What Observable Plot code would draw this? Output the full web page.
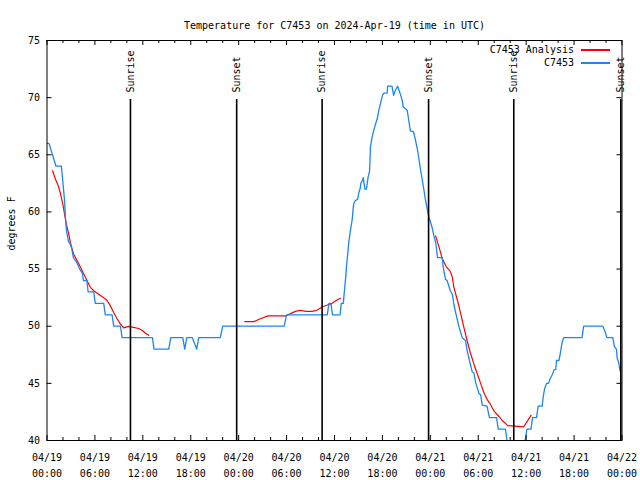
<!DOCTYPE html>
<html><head><meta charset="utf-8">
<script src="https://cdn.jsdelivr.net/npm/d3@7"></script>
<script src="https://cdn.jsdelivr.net/npm/@observablehq/plot@0.6"></script>
<style>
body{margin:0;background:#fff;}
#wrap{position:relative;width:640px;height:480px;font-family:"DejaVu Sans Mono",monospace;font-size:10px;color:#000;}
.lt{position:absolute;right:66px;white-space:pre;line-height:12px;}
.ls{position:absolute;left:581px;width:29px;height:1.5px;}
</style></head><body><div id="wrap"></div>
<script>
const title = "Temperature for C7453 on 2024-Apr-19 (time in UTC)";
const yLabel = "degrees F";
const seriesNames = ["C7453 Analysis", "C7453"];
const seriesColors = ["#ff0000", "#1a86f2"];

// hours since 2024-04-19 00:00 UTC
const xTickHours = [0, 6, 12, 18, 24, 30, 36, 42, 48, 54, 60, 66, 72];
const xTickLabels = ["04/19\n00:00","04/19\n06:00","04/19\n12:00","04/19\n18:00",
  "04/20\n00:00","04/20\n06:00","04/20\n12:00","04/20\n18:00",
  "04/21\n00:00","04/21\n06:00","04/21\n12:00","04/21\n18:00","04/22\n00:00"];
const xMinorHours = [2,4,8,10,14,16,20,22,26,28,32,34,38,40,44,46,50,52,56,58,62,64,68,70];
const yTicks = [40, 45, 50, 55, 60, 65, 70, 75];

const sunHours = [10.45, 23.75, 34.45, 47.78, 58.45, 71.85];
const sunLabels = ["Sunrise", "Sunset", "Sunrise", "Sunset", "Sunrise", "Sunset"];

// observations (C7453)
const obsHours = [0,0.25,1.13,1.8,2.0,2.2,2.3,2.45,2.7,2.9,3.1,3.3,3.7,4.1,4.45,4.55,5.0,5.15,5.85,6.05,7.1,7.3,8.15,8.35,9.2,9.4,13.2,13.4,15.25,15.5,17.0,17.25,17.5,18.2,18.75,19.0,21.7,22.0,29.7,30.0,35.1,35.3,35.55,35.75,36.7,36.85,37.1,37.4,37.5,37.8,38.0,38.2,38.3,38.4,38.6,38.9,39.05,39.2,39.3,39.5,39.6,39.7,39.8,40.0,40.2,40.4,40.5,40.7,40.9,41.1,41.35,41.55,41.8,42.0,42.2,42.6,42.65,43.2,43.4,43.6,43.9,44.3,44.5,44.6,45.1,45.3,45.5,45.9,46.15,46.4,46.6,46.8,47.0,47.2,47.4,47.6,47.8,48.2,48.45,48.7,48.9,49.5,49.6,49.9,50.1,50.5,50.75,50.95,51.2,51.6,52.0,52.4,52.6,53.0,53.25,53.45,53.7,54.1,54.3,54.5,55.1,55.4,56.3,56.5,57.4,57.7,59.75,60.1,60.6,60.8,61.3,61.5,62.0,62.15,62.3,62.55,62.8,63.0,63.3,63.5,63.7,63.8,64.1,64.3,64.5,64.7,67.0,67.2,69.6,69.9,70.1,70.85,71.05,71.3,71.4,71.6,71.75];
const obsTemps = [66,66,64,64,62.5,61,59.5,58.3,57.4,57.2,56.8,56,55.6,55,54.6,54,54,53,53,52,52,51,51,50,50,49,49,48,48,49,49,48,49,49,48,49,49,50,50,51,51,52,52,51,51,52,52,54.3,55.2,57.4,58.4,59.25,60,60.7,61,61.1,61.7,62,62.5,62.75,63,62.5,62,62,63,63.6,65.7,66.5,67.1,67.6,68.15,68.9,69.6,70.2,70.4,70.4,71,71,70.2,70.6,71,70.2,69.7,69.2,68.9,68,67.1,67,66.25,65.4,64.5,63.6,62.75,61.9,61,60.3,59.6,58.7,57.9,57.2,56,56,55.2,54.1,54,53.1,52.8,51.9,51.1,49.9,49,48.75,47.9,46.7,46,45.9,45,44.1,44,43.1,43,42,42,41,41,39.5,39.5,41,41,42,42,43,43,43.9,44.5,45,45,45.4,45.8,46.2,46.2,47,47,47.7,48.6,49,49,50,50,49.5,49,49,48.2,48,47.2,46.8,46.1];

// analysis (C7453 Analysis), three separate runs
const ana1Hours = [0.7,1.04,1.46,1.75,2.0,2.2,2.42,2.71,2.92,3.13,3.34,3.76,4.17,4.59,5.01,5.43,5.84,6.47,7.1,7.52,7.93,8.35,8.77,9.18,9.6,10.2,10.85,11.48,11.9,12.3,12.73];
const ana1Temps = [63.6,62.9,62.2,61.4,60.6,59.8,58.95,58.1,57.35,56.8,56.3,55.75,55.2,54.6,54.0,53.4,53.1,52.8,52.5,52.25,51.8,51.2,50.65,50.2,49.85,49.98,49.9,49.8,49.65,49.4,49.2];
const ana2Hours = [24.76,25.9,26.7,27.7,29.85,30.5,31.1,31.75,32.4,33.2,33.8,34.5,35.3,35.7,36.3,36.75];
const ana2Temps = [50.4,50.4,50.65,50.9,50.9,51.1,51.3,51.4,51.3,51.3,51.4,51.7,51.9,52.0,52.3,52.45];
const ana3Hours = [48.66,49.1,49.5,50.0,50.5,50.75,50.95,51.4,51.8,52.2,52.6,53.0,53.45,53.9,54.3,54.7,55.1,55.5,55.95,56.6,57.0,57.7,59.7,60.6];
const ana3Temps = [57.9,56.9,55.9,55.2,54.8,54.3,53.4,52.25,51.1,49.9,48.75,47.7,46.7,45.8,45.0,44.2,43.6,43.2,42.6,42.1,41.75,41.3,41.2,42.2];

const obs = obsHours.map((h, i) => ({h, t: obsTemps[i]}));
const ana = [[ana1Hours, ana1Temps], [ana2Hours, ana2Temps], [ana3Hours, ana3Temps]]
  .flatMap(([hs, ts], k) => hs.map((h, i) => ({h, t: ts[i], run: k})));

const ML = 46.5, MR = 18.5, MT = 40, MB = 40, W = 640, H = 480;
const fw = W - ML - MR, fh = H - MT - MB;

const chart = Plot.plot({
  width: W, height: H,
  marginLeft: ML, marginRight: MR, marginTop: MT, marginBottom: MB,
  style: {fontFamily: "'DejaVu Sans Mono', monospace", fontSize: "10px", background: "#fff", color: "#000"},
  x: {type: "linear", domain: [0, 72]},
  y: {domain: [40, 75]},
  marks: [
    Plot.line(ana, {x: "h", y: "t", z: "run", stroke: seriesColors[0], strokeWidth: 1.2, clip: true}),
    Plot.line(obs, {x: "h", y: "t", stroke: seriesColors[1], strokeWidth: 1.3, clip: true}),
    Plot.ruleX(sunHours, {x: d => d, insetTop: 59, stroke: "#000", strokeWidth: 1.6}),
    Plot.text(sunHours, {x: d => d, text: (d, i) => sunLabels[i], frameAnchor: "top", dy: 52,
      rotate: -90, textAnchor: "start", lineAnchor: "middle", fill: "#000"}),
    Plot.frame({stroke: "#000", strokeWidth: 1}),
    Plot.tickX(xTickHours, {x: d => d, insetTop: fh - 5, stroke: "#000"}),
    Plot.tickX(xTickHours, {x: d => d, insetBottom: fh - 5, stroke: "#000"}),
    Plot.tickX(xMinorHours, {x: d => d, insetTop: fh - 3, stroke: "#000"}),
    Plot.tickX(xMinorHours, {x: d => d, insetBottom: fh - 3, stroke: "#000"}),
    Plot.tickY(yTicks, {y: d => d, insetRight: fw - 5, stroke: "#000"}),
    Plot.tickY(yTicks, {y: d => d, insetLeft: fw - 5, stroke: "#000"}),
    Plot.axisX(xTickHours, {tickSize: 0, tickPadding: 9, lineHeight: 1.6,
      tickFormat: d => xTickLabels[xTickHours.indexOf(d)], label: null}),
    Plot.axisY(yTicks, {tickSize: 0, tickPadding: 7, label: null}),
    Plot.text([yLabel], {text: d => d, frameAnchor: "left", dx: -35.5, dy: 10, rotate: -90, fill: "#000"}),
    Plot.text([title], {text: d => d, frameAnchor: "top", dy: -19, fill: "#000"})
  ]
});

const wrap = document.getElementById("wrap");
wrap.appendChild(chart);
seriesNames.forEach((name, i) => {
  const t = document.createElement("div");
  t.className = "lt";
  t.style.top = (44 + i * 13) + "px";
  t.textContent = name;
  wrap.appendChild(t);
  const s = document.createElement("div");
  s.className = "ls";
  s.style.top = (49 + i * 13) + "px";
  s.style.background = seriesColors[i];
  wrap.appendChild(s);
});
</script></body></html>
